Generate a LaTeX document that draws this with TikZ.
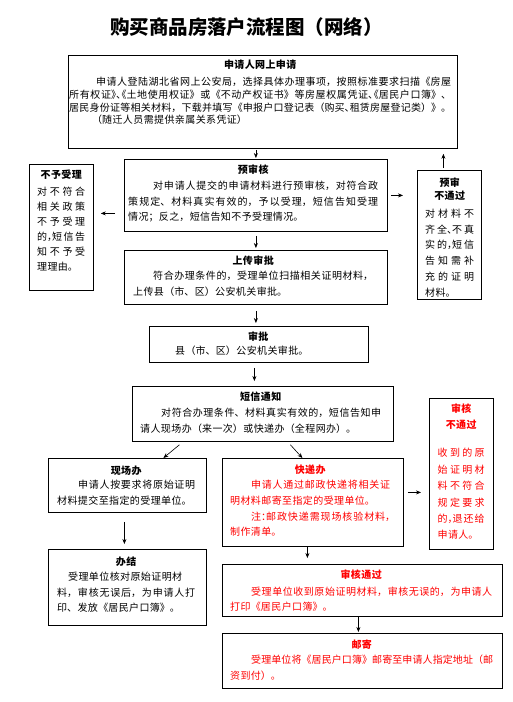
\documentclass[tikz,border=0pt]{standalone}
\usepackage{fontspec}
\setmainfont{Noto Sans CJK SC}
\newfontfamily\halfpunct[RawFeature=+halt]{Noto Sans CJK SC}
\newcommand\hp[1]{{\halfpunct #1}}
\XeTeXlinebreaklocale "zh"
\XeTeXlinebreakskip=0.4pt plus 3pt minus 0.4pt
\tolerance=10000
\hbadness=10000
\hfuzz=3pt
\usetikzlibrary{arrows.meta}
\definecolor{myred}{RGB}{255,0,0}
\begin{document}
\begin{tikzpicture}[x=1pt,y=-1pt,
 box/.style={draw=black, line width=0.8pt, inner sep=0pt, anchor=north west, rectangle},
 txt/.style={anchor=base west, inner sep=0pt, align=justify, font=\fontsize{10pt}{#1}\selectfont},
 arr/.style={draw=black, line width=0.6pt, -{Stealth[length=5pt,width=4pt]}},
 rt/.style={text=myred}]
\fill[white] (0,0) rectangle (512,702);
\useasboundingbox (0,0) rectangle (512,702);

\node[anchor=base, inner sep=0pt, font=\fontsize{19.5pt}{20pt}\selectfont\bfseries] (title) at (246.5,34.9) {购买商品房落户流程图（网络）};

% boxes
\node[box, minimum width=389pt, minimum height=93pt] (b1) at (68,55) {};
\node[box, minimum width=263pt, minimum height=72pt] (b2) at (124,159) {};
\node[box, minimum width=64pt, minimum height=126pt] (bn) at (29,164) {};
\node[box, minimum width=64pt, minimum height=129pt] (bf) at (417,170) {};
\node[box, minimum width=263pt, minimum height=54pt] (b3) at (124,250) {};
\node[box, minimum width=219pt, minimum height=36pt] (b4) at (149,326) {};
\node[box, minimum width=261pt, minimum height=55pt] (b5) at (132,386) {};
\node[box, minimum width=64pt, minimum height=151pt] (br) at (429,398) {};
\node[box, minimum width=158pt, minimum height=54pt] (b6) at (48,458) {};
\node[box, minimum width=181pt, minimum height=88pt] (b7) at (222,458) {};
\node[box, minimum width=158pt, minimum height=76pt] (b8) at (48,549) {};
\node[box, minimum width=280pt, minimum height=52pt] (b9) at (222,564) {};
\node[box, minimum width=280pt, minimum height=55pt] (b10) at (222,633) {};

% texts
\node[txt=12.7pt, text width=382pt] (b1t) at (69,68.8) {{\centering\bfseries 申请人网上申请\par}\vspace{4.3pt}%
\hspace*{27pt}申请人登陆湖北省网上公安局，选择具体办理事项，按照标准要求扫描《房屋\linebreak 所有权证\hp{》、《}土地使用权证》或《不动产权证书》等房屋权属凭证\hp{、《}居民户口簿》、\linebreak 居民身份证等相关材料，下载并填写《申报户口登记表（购买\hp{、}租赁房屋登记类）》。{\parfillskip=0pt\par}
\hspace*{23pt}（随迁人员需提供亲属关系凭证）};

\node[txt=15.5pt, text width=250pt] (b2t) at (128,173.8) {{\centering\bfseries 预审核\par}\vspace{0.5pt}%
\hspace*{25pt}对申请人提交的申请材料进行预审核，对符合政\linebreak 策规定、材料真实有效的，予以受理，短信告知受理\linebreak 情况；反之，短信告知不予受理情况。};

\node[txt=15pt, text width=48pt] (bnt) at (37,178.8) {{\centering\bfseries 不予受理\par}\vspace{2pt}%
对不符合\linebreak 相关政策\linebreak 不予受理\linebreak 的\hp{，}短信告\linebreak 知不予受\linebreak 理理由。};

\node[txt=15.8pt, text width=49pt] (bft) at (425,186.8) {{\centering\bfseries\fontsize{10pt}{12.5pt}\selectfont 预审\par 不通过\par}\vspace{2.2pt}%
对材料不\linebreak 齐全\hp{、}不真\linebreak 实的\hp{，}短信\linebreak 告知需补\linebreak 充的证明\linebreak 材料。};

\node[txt=16pt, text width=240pt] (b3t) at (133,264.8) {{\centering\bfseries 上传审批\par}\vspace{-1pt}%
\hspace*{20pt}符合办理条件的，受理单位扫描相关证明材料，\linebreak 上传县（市、区）公安机关审批。};

\node[txt=14pt, text width=210pt] (b4t) at (153,340.8) {{\centering\bfseries 审批\par}%
\hspace*{22pt}县（市、区）公安机关审批。};

\node[txt=16pt, text width=241pt] (b5t) at (140,400.5) {{\centering\bfseries 短信通知\par}\vspace{0.3pt}%
\hspace*{21pt}对符合办理条件、材料真实有效的，短信告知申\linebreak 请人现场办（来一次）或快递办（全程网办）。};

\node[txt=16pt, text width=138pt] (b6t) at (57,474.5) {{\centering\bfseries 现场办\par}\vspace{-1.7pt}%
\hspace*{21pt}申请人按要求将原始证明\linebreak 材料提交至指定的受理单位。};

\node[txt=15.7pt, rt, text width=160pt] (b7t) at (230,473.8) {{\centering\bfseries 快递办\par}\vspace{-0.7pt}%
\hspace*{21pt}申请人通过邮政快递将相关证\linebreak 明材料邮寄至指定的受理单位。\par
\hspace*{21pt}注\hp{：}邮政快递需现场核验材料\hp{，}\linebreak 制作清单。};

\node[txt=16.4pt, rt, text width=47pt] (brt) at (437.5,412.8) {{\centering\bfseries\fontsize{10pt}{16pt}\selectfont 审核\par 不通过\par}\vspace{11.6pt}%
收到的原\linebreak 始证明材\linebreak 料不符合\linebreak 规定要求\linebreak 的\hp{，}退还给\linebreak 申请人。};

\node[txt=15.6pt, text width=138pt] (b8t) at (57,565.5) {{\centering\bfseries 办结\par}\vspace{-0.6pt}%
\hspace*{11pt}受理单位核对原始证明材\newline 料，审核无误后，为申请人打\linebreak 印、发放《居民户口簿》。};

\node[txt=15pt, rt, text width=262pt] (b9t) at (230,578.8) {{\centering\bfseries 审核通过\par}\vspace{1.7pt}%
\hspace*{21pt}受理单位收到原始证明材料，审核无误的，为申请人\linebreak 打印《居民户口簿》。};

\node[txt=15.5pt, rt, text width=263pt] (b10t) at (230,648.8) {{\centering\bfseries 邮寄\par}\vspace{-0.5pt}%
\hspace*{21pt}受理单位将《居民户口簿》邮寄至申请人指定地址（邮\linebreak 资到付）。};

% connectors
\draw[arr, shorten <=1pt, shorten >=1pt] (b2.north |- b1.south) -- (b2.north);
\coordinate (c1) at ([yshift=-18pt]b2.west);
\draw[arr, shorten <=9pt, shorten >=7pt] (c1) -- (bn.east |- c1);
\draw[arr, shorten <=3pt, shorten >=14pt] (b2.east) -- (bf.west |- b2.east);
\coordinate (c2) at ([xshift=-6pt]bf.north);
\draw[arr, shorten <=2pt, shorten >=5pt] (c2) -- (b1.south -| c2);
\draw[arr, shorten <=4pt, shorten >=2pt] (b2.south) -- (b3.north);
\draw[arr, shorten <=6pt, shorten >=3pt] (b3.south) -- (b4.north -| b3.south);
\coordinate (c3) at ([xshift=-4.5pt]b4.south);
\draw[arr, shorten <=5pt, shorten >=5pt] (c3) -- (b5.north -| c3);
\draw[arr] ([xshift=-83.5pt,yshift=-3pt]b5.south) -- ([xshift=36pt]b6.north);
\draw[arr] ([xshift=27.5pt,yshift=-3pt]b5.south) -- ([xshift=-10.5pt]b7.north);
\coordinate (c4) at ([yshift=10pt]b7.east);
\draw[arr, shorten <=4pt, shorten >=8pt] (c4) -- (br.west |- c4);
\draw[arr, shorten <=9pt, shorten >=5pt] ([xshift=-3pt]b6.south) -- ([xshift=-3pt]b8.north);
\coordinate (c5) at ([xshift=-5.5pt]b7.south);
\draw[arr, shorten >=6pt] (c5) -- (b9.north -| c5);
\draw[arr, shorten >=1pt] ([xshift=-4pt]b9.south) -- ([xshift=-4pt]b10.north);
\end{tikzpicture}
\end{document}
